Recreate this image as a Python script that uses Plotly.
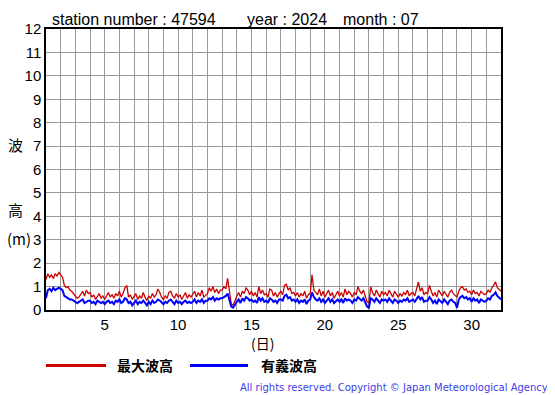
import plotly.graph_objects as go

# ---- data (3-hourly readings, July 2024, station 47594) ----
start_day = 1.0
step_hours = 3
max_wave = [
    1.30,1.55,1.40,1.50,1.35,1.55,1.45,1.60,
    1.50,1.40,1.05,0.95,1.00,0.85,0.80,0.70,
    0.60,0.50,0.55,0.65,0.80,0.60,0.85,0.70,
    0.75,0.55,0.65,0.45,0.60,0.70,0.50,0.60,
    0.45,0.60,0.75,0.55,0.65,0.50,0.70,0.60,
    0.80,0.55,0.70,0.95,1.05,0.55,0.65,0.45,
    0.55,0.70,0.45,0.60,0.50,0.75,0.55,0.40,
    0.60,0.50,0.70,0.55,0.65,0.90,0.75,0.55,
    0.45,0.60,0.50,0.75,0.80,0.60,0.50,0.70,
    0.55,0.65,0.45,0.60,0.75,0.50,0.65,0.55,
    0.70,0.80,0.55,0.75,0.60,0.85,0.55,0.65,
    0.70,0.95,0.80,1.00,0.75,0.90,0.70,0.85,
    0.85,1.00,0.90,1.35,0.70,0.25,0.20,0.45,
    0.60,0.75,0.55,0.80,0.70,0.95,0.85,0.65,
    0.80,0.60,0.75,0.55,1.00,0.70,0.85,0.65,
    0.70,0.55,0.90,0.85,0.60,0.75,0.55,0.70,
    0.80,0.65,1.05,1.10,0.85,0.95,0.70,0.75,
    0.60,0.75,0.55,0.70,0.60,0.80,0.50,0.65,
    0.70,1.50,0.85,0.75,0.65,0.90,0.60,0.80,
    0.55,0.70,0.85,0.60,0.75,0.50,0.65,0.80,
    0.60,0.75,0.55,0.90,0.65,0.80,0.70,0.55,
    0.75,0.65,1.00,0.80,0.70,0.85,0.60,0.35,
    0.30,1.00,0.75,0.60,0.85,0.70,0.55,0.80,
    0.65,0.75,0.60,0.85,0.70,0.55,0.80,0.65,
    0.55,0.70,0.60,0.75,0.65,0.85,0.60,0.70,
    0.75,0.60,0.85,1.20,0.80,0.95,0.65,0.75,
    0.70,1.05,0.80,0.60,0.75,0.55,0.85,0.70,
    0.60,0.80,0.65,0.55,0.75,0.85,0.70,0.60,
    0.55,0.80,0.95,1.00,0.85,0.90,0.75,0.80,
    0.65,0.85,0.70,0.75,0.60,0.80,0.70,0.65,
    0.70,0.85,0.75,0.95,1.05,1.20,0.95,0.85,
    0.80,
]
sig_wave = [
    0.50,0.85,0.90,0.80,0.95,0.85,0.90,0.95,
    0.90,0.85,0.60,0.55,0.50,0.45,0.45,0.40,
    0.35,0.30,0.35,0.40,0.45,0.30,0.35,0.40,
    0.40,0.30,0.35,0.25,0.40,0.35,0.30,0.35,
    0.25,0.35,0.40,0.30,0.35,0.25,0.40,0.35,
    0.45,0.30,0.35,0.50,0.45,0.30,0.35,0.20,
    0.30,0.40,0.25,0.35,0.30,0.40,0.30,0.20,
    0.35,0.25,0.40,0.30,0.35,0.45,0.40,0.30,
    0.25,0.35,0.30,0.40,0.45,0.35,0.25,0.40,
    0.30,0.35,0.25,0.35,0.40,0.30,0.35,0.30,
    0.35,0.45,0.30,0.40,0.35,0.45,0.30,0.40,
    0.40,0.50,0.45,0.55,0.40,0.50,0.45,0.50,
    0.50,0.55,0.60,0.70,0.45,0.15,0.10,0.25,
    0.35,0.45,0.30,0.50,0.40,0.55,0.50,0.40,
    0.45,0.35,0.40,0.30,0.55,0.40,0.50,0.35,
    0.40,0.30,0.50,0.45,0.35,0.40,0.30,0.45,
    0.45,0.40,0.60,0.65,0.50,0.55,0.40,0.45,
    0.35,0.45,0.30,0.40,0.35,0.45,0.25,0.40,
    0.45,0.75,0.55,0.45,0.40,0.50,0.35,0.45,
    0.30,0.40,0.50,0.35,0.45,0.30,0.40,0.45,
    0.35,0.45,0.30,0.50,0.40,0.45,0.40,0.30,
    0.45,0.40,0.55,0.45,0.40,0.50,0.35,0.15,
    0.10,0.50,0.45,0.35,0.50,0.40,0.30,0.45,
    0.40,0.45,0.35,0.50,0.40,0.30,0.45,0.40,
    0.30,0.40,0.35,0.45,0.40,0.50,0.35,0.40,
    0.45,0.35,0.50,0.60,0.45,0.55,0.35,0.40,
    0.40,0.55,0.45,0.30,0.40,0.25,0.45,0.35,
    0.30,0.45,0.35,0.25,0.40,0.45,0.35,0.30,
    0.10,0.45,0.55,0.60,0.50,0.55,0.45,0.50,
    0.35,0.50,0.40,0.45,0.30,0.45,0.40,0.35,
    0.40,0.50,0.45,0.60,0.65,0.75,0.60,0.50,
    0.45,
]
x_tick_labels = [5, 10, 15, 20, 25, 30]
y_ticks = list(range(0, 13))
title_parts = ["station number : 47594", "year : 2024", "month : 07"]
legend_names = ["最大波高", "有義波高"]
colors = ["#cc0000", "#0000ff"]

times = [start_day + i * step_hours / 24.0 for i in range(len(max_wave))]

OFF = 8                      # page body margin
W, H = 555 - OFF, 395 - OFF  # figure size
L, R, T, B = 46, 501, 26, 310  # plot area in page pixels


def px(xp):
    return (xp - L) / (R - L)


def py(yp):
    return (B - yp) / (B - T)


fig = go.Figure()
fig.add_trace(go.Scatter(x=times, y=max_wave, mode="lines",
                         line=dict(color=colors[0], width=1.3), name=legend_names[0]))
fig.add_trace(go.Scatter(x=times, y=sig_wave, mode="lines",
                         line=dict(color=colors[1], width=2), name=legend_names[1]))

font_main = "Liberation Sans, Arial, sans-serif"
font_cjk = "Noto Sans CJK JP"

all_days = list(range(1, 33))
fig.update_xaxes(range=[1, 32], tickmode="array", tickvals=all_days,
                 ticktext=[str(d) if d in x_tick_labels else "" for d in all_days],
                 showgrid=True, gridcolor="#999999", gridwidth=1,
                 showline=True, linecolor="black", linewidth=1.5, mirror=True,
                 ticks="", zeroline=False,
                 tickfont=dict(family=font_main, size=15, color="black"))
fig.update_yaxes(range=[0, 12], tickmode="array", tickvals=y_ticks,
                 showgrid=True, gridcolor="#999999", gridwidth=1,
                 showline=True, linecolor="black", linewidth=1.5, mirror=True,
                 ticks="", zeroline=False,
                 tickfont=dict(family=font_main, size=15, color="black"))

ann = []
title_x = [50, 245, 341]
for t, xx in zip(title_parts, title_x):
    ann.append(dict(text=t, x=px(xx), y=py(16), xref="paper", yref="paper",
                    xanchor="left", yanchor="middle", showarrow=False,
                    font=dict(family=font_main, size=16, color="black")))
for t, xx, yy in [("波", 15, 143), ("高", 15, 208), ("(m)", 19, 238)]:
    ann.append(dict(text=t, x=px(xx), y=py(yy), xref="paper", yref="paper",
                    xanchor="center", yanchor="middle", showarrow=False,
                    font=dict(family=font_cjk, size=15, color="black")))
ann.append(dict(text="(日)", x=px(262), y=py(343), xref="paper", yref="paper",
                xanchor="center", yanchor="middle", showarrow=False,
                font=dict(family=font_cjk, size=14, color="black")))
for t, xx in zip(legend_names, [115, 259]):
    ann.append(dict(text="<b>" + t + "</b>", x=px(xx), y=py(366), xref="paper", yref="paper",
                    xanchor="left", yanchor="middle", showarrow=False,
                    font=dict(family=font_cjk, size=14, color="black")))
ann.append(dict(text="All rights reserved. Copyright © Japan Meteorological Agency",
                x=px(550), y=py(388), xref="paper", yref="paper",
                xanchor="right", yanchor="middle", showarrow=False,
                font=dict(family="DejaVu Sans, sans-serif", size=10, color="#4040e8")))

shapes = []
for c, (x0, x1) in zip(colors, [(46, 106), (190, 248)]):
    shapes.append(dict(type="line", xref="paper", yref="paper",
                       x0=px(x0), x1=px(x1), y0=py(366), y1=py(366),
                       line=dict(color=c, width=3)))

fig.update_layout(width=W, height=H,
                  margin=dict(l=L - OFF, r=(W + OFF) - R, t=T - OFF, b=(H + OFF) - B, pad=0),
                  paper_bgcolor="white", plot_bgcolor="white",
                  showlegend=False, annotations=ann, shapes=shapes)

fig.write_html("out.html")
